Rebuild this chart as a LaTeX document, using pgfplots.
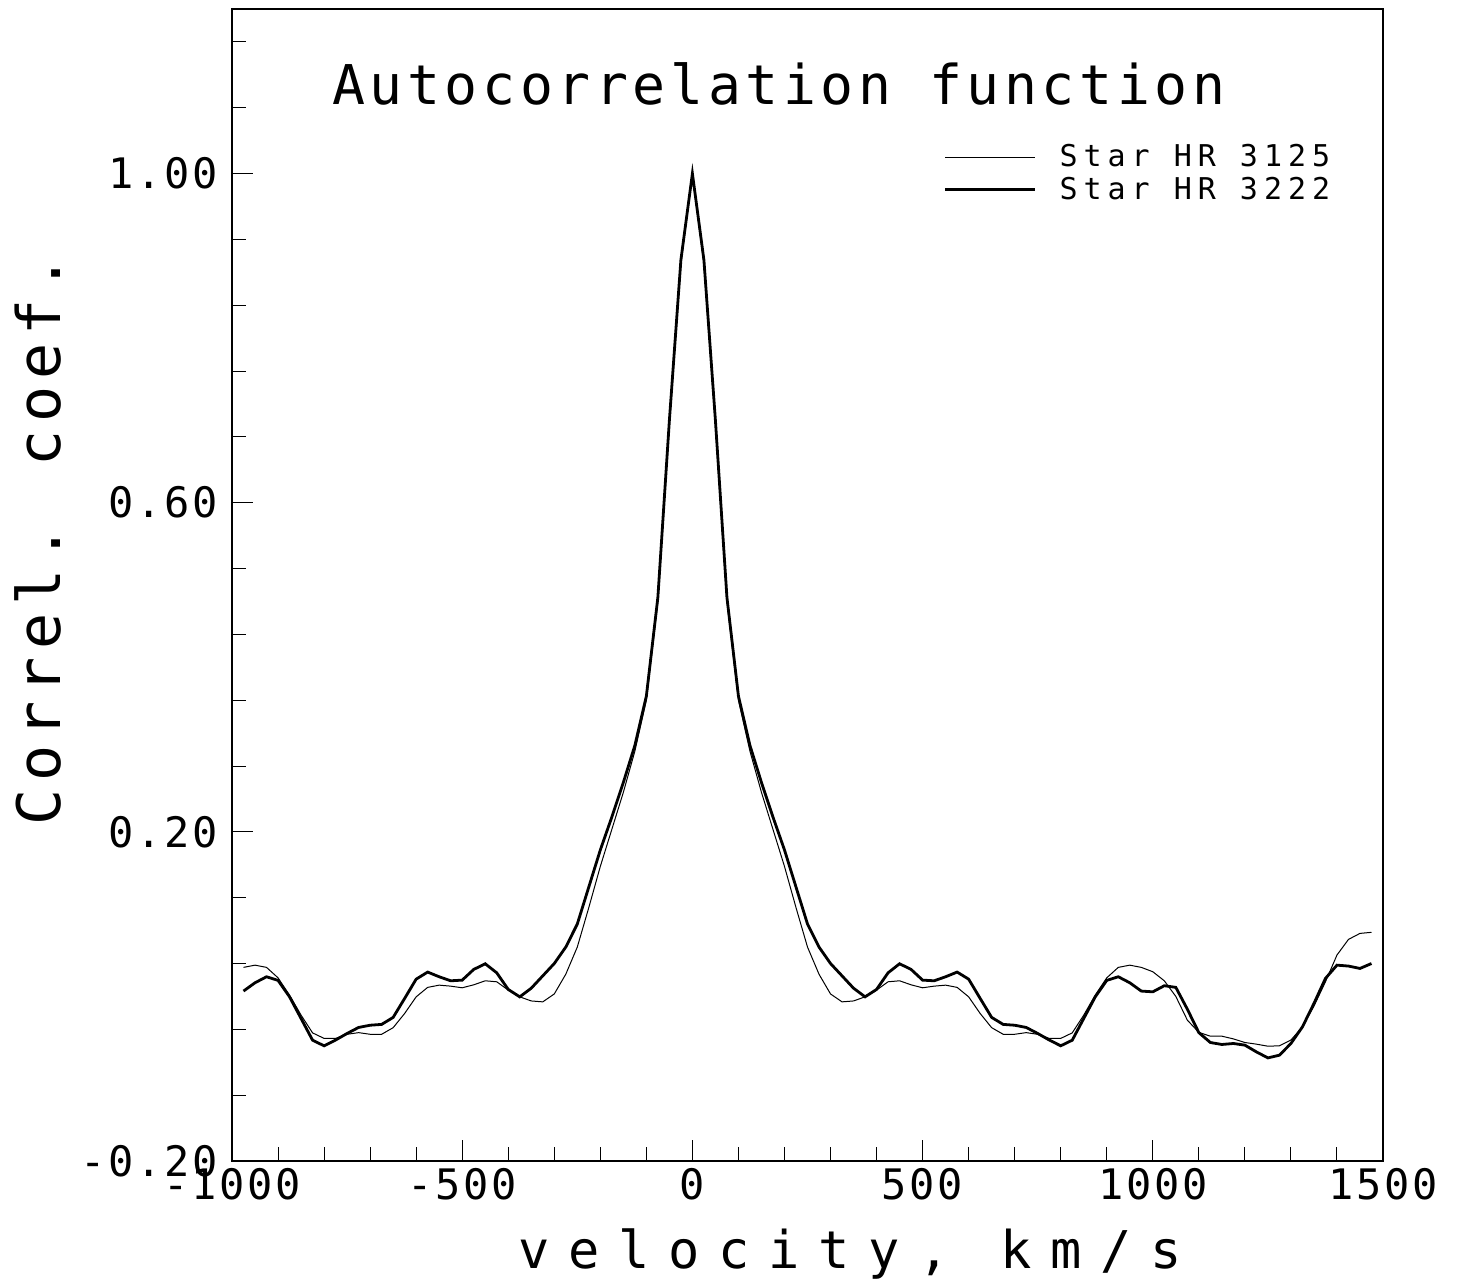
\documentclass[border=0pt]{standalone}
\usepackage{pgfplots}
\usepackage{pgfplotstable}
\pgfplotsset{compat=1.18}
\usepackage{fontspec}
\setmainfont{DejaVu Sans Mono}
\newfontfamily\tickfam[LetterSpace=6.5]{DejaVu Sans Mono}
\newfontfamily\titlefam[LetterSpace=8.4]{DejaVu Sans Mono}
\newfontfamily\ylabfam[LetterSpace=13]{DejaVu Sans Mono}
\newfontfamily\xlabfam[LetterSpace=36]{DejaVu Sans Mono}
\newfontfamily\legfam[LetterSpace=20]{DejaVu Sans Mono}

\pgfplotstableread{
v thin thick
-975 0.0353 0.0065
-950 0.038 0.0166
-925 0.0353 0.0239
-900 0.0226 0.0195
-875 0.0016 -0.0005
-850 -0.0227 -0.0268
-825 -0.0443 -0.0532
-800 -0.051 -0.060
-775 -0.051 -0.053
-750 -0.046 -0.045
-725 -0.044 -0.0377
-700 -0.046 -0.035
-675 -0.046 -0.034
-650 -0.038 -0.0255
-625 -0.0207 -0.0024
-600 -0.0005 0.021
-575 0.011 0.0296
-550 0.0137 0.0239
-525 0.0125 0.019
-500 0.0105 0.0198
-475 0.0141 0.0328
-450 0.019 0.0397
-425 0.0178 0.0287
-400 0.0077 0.0085
-375 -0.0005 -0.0005
-350 -0.0055 0.010
-325 -0.0066 0.025
-300 0.003 0.040
-275 0.027 0.060
-250 0.060 0.088
-225 0.108 0.133
-200 0.158 0.178
-175 0.203 0.218
-150 0.248 0.260
-125 0.298 0.305
-100 0.360 0.365
-75 0.480 0.485
-50 0.695 0.700
-25 0.890 0.895
0 1.000 1.000
25 0.890 0.895
50 0.695 0.700
75 0.480 0.485
100 0.360 0.365
125 0.298 0.305
150 0.248 0.260
175 0.203 0.218
200 0.158 0.178
225 0.108 0.133
250 0.060 0.088
275 0.027 0.060
300 0.003 0.040
325 -0.0066 0.025
350 -0.0055 0.010
375 -0.0005 -0.0005
400 0.0077 0.0085
425 0.0178 0.0287
450 0.019 0.0397
475 0.0141 0.0328
500 0.0105 0.0198
525 0.0125 0.019
550 0.0137 0.0239
575 0.011 0.0296
600 -0.0005 0.021
625 -0.0207 -0.0024
650 -0.038 -0.0255
675 -0.046 -0.034
700 -0.046 -0.035
725 -0.044 -0.0377
750 -0.046 -0.045
775 -0.051 -0.053
800 -0.051 -0.060
825 -0.0443 -0.0532
850 -0.0227 -0.0268
875 0.0016 -0.0005
900 0.0226 0.0195
925 0.0353 0.0239
950 0.038 0.0166
975 0.0353 0.0065
1000 0.030 0.0056
1025 0.019 0.013
1050 0.000 0.011
1075 -0.0288 -0.0155
1100 -0.0437 -0.044
1125 -0.0483 -0.056
1150 -0.0483 -0.0584
1175 -0.0516 -0.0572
1200 -0.056 -0.0592
1225 -0.058 -0.0674
1250 -0.0605 -0.0747
1275 -0.060 -0.0714
1300 -0.053 -0.0572
1325 -0.037 -0.037
1350 -0.0118 -0.0085
1375 0.0178 0.0219
1400 0.0503 0.038
1425 0.0693 0.0369
1450 0.0766 0.034
1475 0.0779 0.040
}\datatable

\begin{document}
\begin{tikzpicture}
\begin{axis}[
  at={(0,0)}, anchor=south west,
  scale only axis, width=575.5pt, height=576pt,
  xmin=-1000, xmax=1500, ymin=-0.2, ymax=1.2,
  axis line style={line width=0.7pt},
  xtick={-1000,-500,0,500,1000,1500},
  xticklabels={-1000,-500,0,500,1000,1500},
  minor xtick={-900,-800,-700,-600,-400,-300,-200,-100,100,200,300,400,600,700,800,900,1100,1200,1300,1400},
  ytick={-0.2,0.2,0.6,1.0},
  yticklabels={-0.20,0.20,0.60,1.00},
  minor ytick={-0.12,-0.04,0.04,0.12,0.28,0.36,0.44,0.52,0.68,0.76,0.84,0.92,1.08,1.16},
  tick align=inside,
  xtick pos=bottom, ytick pos=left,
  major tick length=10.5pt, minor tick length=7pt,
  every tick/.style={black, line width=0.5pt},
  xticklabel style={font=\tickfam\fontsize{21}{21}\selectfont, inner sep=0pt, yshift=-3.5pt},
  yticklabel style={font=\tickfam\fontsize{21}{21}\selectfont, inner sep=0pt, xshift=-7pt},
  clip=false,
  legend style={at={(0.958,0.886)}, anchor=north east, draw=none, fill=none,
    font=\legfam\fontsize{15}{15}\selectfont, row sep=-0.5pt, inner sep=0pt},
  legend cell align=left,
  legend image code/.code={\draw[#1] (0pt,0pt) -- (45pt,0pt); \path (54.5pt,0pt);},
]
\addplot[black, line width=0.5pt] table[x=v, y=thin] {\datatable};
\addlegendentry{Star HR 3125}
\addplot[black, line width=1.4pt] table[x=v, y=thick] {\datatable};
\addlegendentry{Star HR 3222}
\node[font=\titlefam\fontsize{27.4}{30}\selectfont, anchor=base] at (axis description cs:0.475,0.917) {Autocorrelation function};
\node[font=\ylabfam\fontsize{30}{33}\selectfont, rotate=90, anchor=base] at (axis description cs:-0.1494,0.539) {Correl. coef.};
\node[font=\xlabfam\fontsize{26}{28}\selectfont, anchor=base] at (axis description cs:0.537,-0.0929) {velocity, km/s};
\end{axis}
\pgfresetboundingbox
\path[use as bounding box] (-116pt,-61pt) rectangle (613.5pt,580.5pt);
\end{tikzpicture}
\end{document}
